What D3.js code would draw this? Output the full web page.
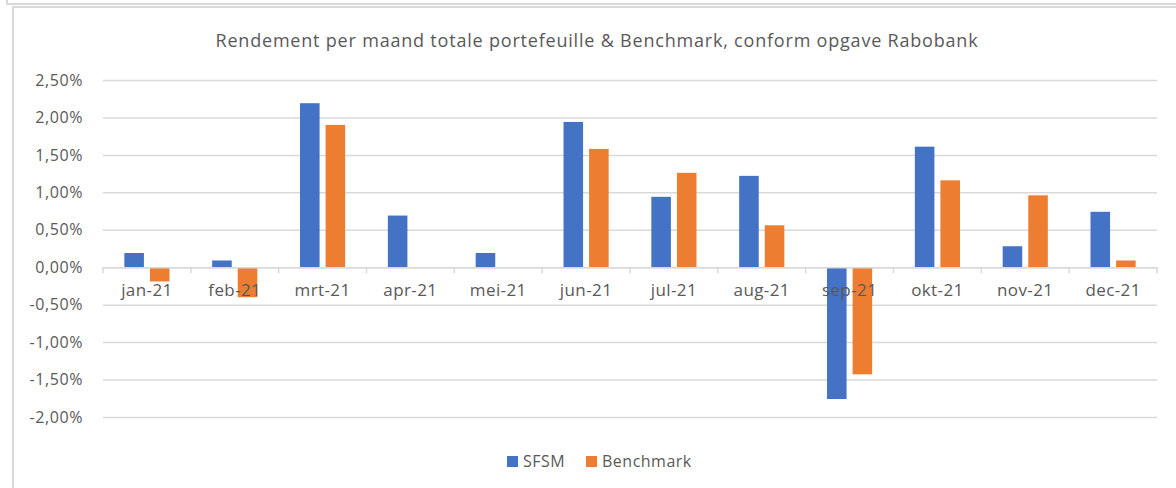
<!DOCTYPE html>
<html>
<head>
<meta charset="utf-8">
<script src="https://cdn.jsdelivr.net/npm/d3@7"></script>
<style>
  body { margin: 0; background: #fff; }
  svg { display: block; }
  text { font-family: "Open Sans", "Noto Sans", sans-serif; fill: #595959; }
</style>
</head>
<body>
<div id="chart"></div>
<script>
// data (percent)
var months = ["jan-21", "feb-21", "mrt-21", "apr-21", "mei-21", "jun-21",
              "jul-21", "aug-21", "sep-21", "okt-21", "nov-21", "dec-21"];
var series = ["SFSM", "Benchmark"];
var sfsm = [0.19, 0.09, 2.19, 0.69, 0.19, 1.94, 0.94, 1.22, -1.76, 1.61, 0.28, 0.74];
var benchmark = [-0.19, -0.40, 1.90, 0, 0, 1.58, 1.26, 0.56, -1.43, 1.16, 0.96, 0.09];
var yTicks = [-2.0, -1.5, -1.0, -0.5, 0, 0.5, 1.0, 1.5, 2.0, 2.5];
var colors = ["#4472C4", "#ED7D31"];
var title = "Rendement per maand totale portefeuille & Benchmark, conform opgave Rabobank";

var width = 1176, height = 488;

var svg = d3.select("#chart")
  .append("svg")
  .attr("width", width)
  .attr("height", height);

// frame lines
svg.append("path")
  .attr("d", "M7,0 V4 H" + width)
  .attr("fill", "none")
  .attr("stroke", "#d9d9d9")
  .attr("stroke-width", 2);
svg.append("path")
  .attr("d", "M13," + height + " V7 H" + width)
  .attr("fill", "none")
  .attr("stroke", "#d9d9d9")
  .attr("stroke-width", 2);

var x = d3.scaleBand().domain(months).range([103, 1157]);
var xSub = d3.scaleBand().domain(series)
  .range([x.bandwidth() * 0.243, x.bandwidth() * 0.757])
  .paddingInner(0.235);
var y = d3.scaleLinear().domain([-2.0, 2.5]).range([417, 80]);

var nl = d3.formatLocale({ decimal: ",", thousands: ".", grouping: [3], currency: ["€", ""], minus: "-" });
var fmt = nl.format(".2f");

// gridlines + y labels
var yAxis = svg.append("g")
  .attr("transform", "translate(103,0)")
  .call(d3.axisLeft(y).tickValues(yTicks).tickSize(-1054).tickPadding(20)
    .tickFormat(function (d) { return fmt(d) + "%"; }));
yAxis.select(".domain").remove();
yAxis.selectAll(".tick line").attr("stroke", "#d9d9d9").attr("stroke-width", 1.5);
yAxis.selectAll(".tick text")
  .style("font-size", "16px")
  .style("letter-spacing", "0.6px")
  .attr("fill", "#595959");

// bars
var rows = months.map(function (m, i) { return { month: m, values: [sfsm[i], benchmark[i]] }; });
var groups = svg.append("g").selectAll("g")
  .data(rows)
  .enter()
  .append("g")
  .attr("transform", function (d) { return "translate(" + x(d.month) + ",0)"; });
groups.selectAll("rect")
  .data(function (d) { return d.values.map(function (v, j) { return { key: series[j], value: v, i: j }; }); })
  .enter()
  .filter(function (d) { return d.value !== 0; })
  .append("rect")
  .attr("x", function (d) { return xSub(d.key); })
  .attr("width", xSub.bandwidth())
  .attr("y", function (d) { return Math.min(y(d.value), y(0)); })
  .attr("height", function (d) { return Math.abs(y(d.value) - y(0)); })
  .attr("fill", function (d) { return colors[d.i]; });

// category axis at zero
var xAxis = svg.append("g")
  .attr("transform", "translate(0," + y(0) + ")")
  .call(d3.axisBottom(x).tickSize(0).tickPadding(17));
xAxis.select(".domain").attr("stroke", "#d9d9d9").attr("stroke-width", 1.5);
xAxis.selectAll(".tick text")
  .style("font-size", "17px")
  .style("letter-spacing", "0.4px")
  .attr("fill", "#595959");
xAxis.selectAll(".sep")
  .data(months.concat(["end"]))
  .enter()
  .append("line")
  .attr("x1", function (d, i) { return 103 + i * x.step(); })
  .attr("x2", function (d, i) { return 103 + i * x.step(); })
  .attr("y1", 0)
  .attr("y2", 6)
  .attr("stroke", "#d9d9d9")
  .attr("stroke-width", 1.5);

// title
svg.append("text")
  .attr("x", 597)
  .attr("y", 47)
  .attr("text-anchor", "middle")
  .style("font-size", "18px")
  .style("letter-spacing", "0.8px")
  .text(title);

// legend
var legend = svg.append("g").attr("transform", "translate(507,461)");
var legendX = [0, 79];
series.forEach(function (s, i) {
  legend.append("rect")
    .attr("x", legendX[i])
    .attr("y", -5)
    .attr("width", 11)
    .attr("height", 11)
    .attr("fill", colors[i]);
  legend.append("text")
    .attr("x", legendX[i] + 16)
    .attr("y", 0)
    .attr("dy", "0.35em")
    .style("font-size", "16px")
    .style("letter-spacing", "0.5px")
    .text(s);
});
</script>
</body>
</html>
